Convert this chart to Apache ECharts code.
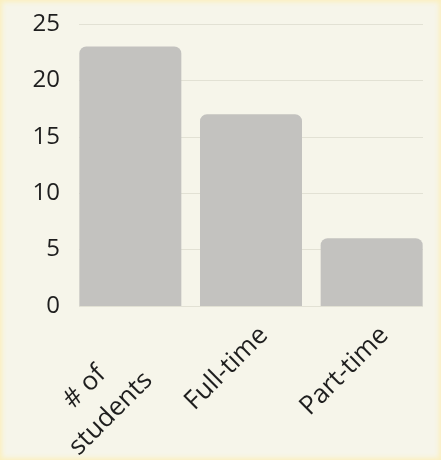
<!DOCTYPE html>
<html><head><meta charset="utf-8">
<script src="https://cdn.jsdelivr.net/npm/echarts@6/dist/echarts.min.js"></script>
<style>
html,body{margin:0;padding:0;width:441px;height:460px;overflow:hidden;background:#f6f5ea;}
#c{position:absolute;left:0;top:0;width:441px;height:460px;box-shadow:inset 0 0 5px 2px #fbefbd;}
</style></head>
<body><div id="c"></div>
<script>
const categories = ['# of\nstudents', 'Full-time', 'Part-time'];
const values = [23, 17, 6];
const yTicks = [0, 5, 10, 15, 20, 25];

const categoryItems = categories.map(c => c.indexOf('\n') >= 0
  ? {value: c, textStyle: {padding: [34, 10, 0, 0]}}
  : c);

const chart = echarts.init(document.getElementById('c'));
chart.setOption({
  backgroundColor: 'transparent',
  animation: false,
  grid: [
    {left: 79, right: 18, top: 24, bottom: 154, containLabel: false, outerBoundsMode: 'none'},
    {left: 70, right: 9, top: 24, bottom: 154, containLabel: false, outerBoundsMode: 'none'}
  ],
  xAxis: [
    {gridIndex: 0, type: 'category', data: categories, show: false},
    {
      gridIndex: 1, type: 'category', data: categoryItems,
      axisLine: {show: false}, axisTick: {show: false},
      axisLabel: {
        rotate: 45, margin: 38, interval: 0, padding: [0, -18, 0, 0],
        fontSize: 26, color: '#1e1e1e', fontFamily: 'Open Sans',
        formatter: v => v.split('\n').map(s => '{c|' + s + '}').join('\n'),
        rich: {
          c: {align: 'center', fontSize: 26, lineHeight: 37, color: '#1e1e1e', fontFamily: 'Open Sans'}
        }
      }
    }
  ],
  yAxis: [
    {
      gridIndex: 0, type: 'value', min: yTicks[0], max: yTicks[yTicks.length - 1], interval: 5,
      axisLine: {show: false}, axisTick: {show: false},
      axisLabel: {margin: 19, fontSize: 24, color: '#1e1e1e', fontFamily: 'Open Sans'},
      splitLine: {lineStyle: {color: '#e2e1d4', width: 1}}
    },
    {gridIndex: 1, type: 'value', min: yTicks[0], max: yTicks[yTicks.length - 1], interval: 5, show: false, splitLine: {show: false}}
  ],
  series: [{
    type: 'bar', xAxisIndex: 1, yAxisIndex: 1, data: values, barWidth: 102,
    itemStyle: {color: '#c3c2bf', borderRadius: [7, 7, 0, 0]}
  }]
});
</script></body></html>
